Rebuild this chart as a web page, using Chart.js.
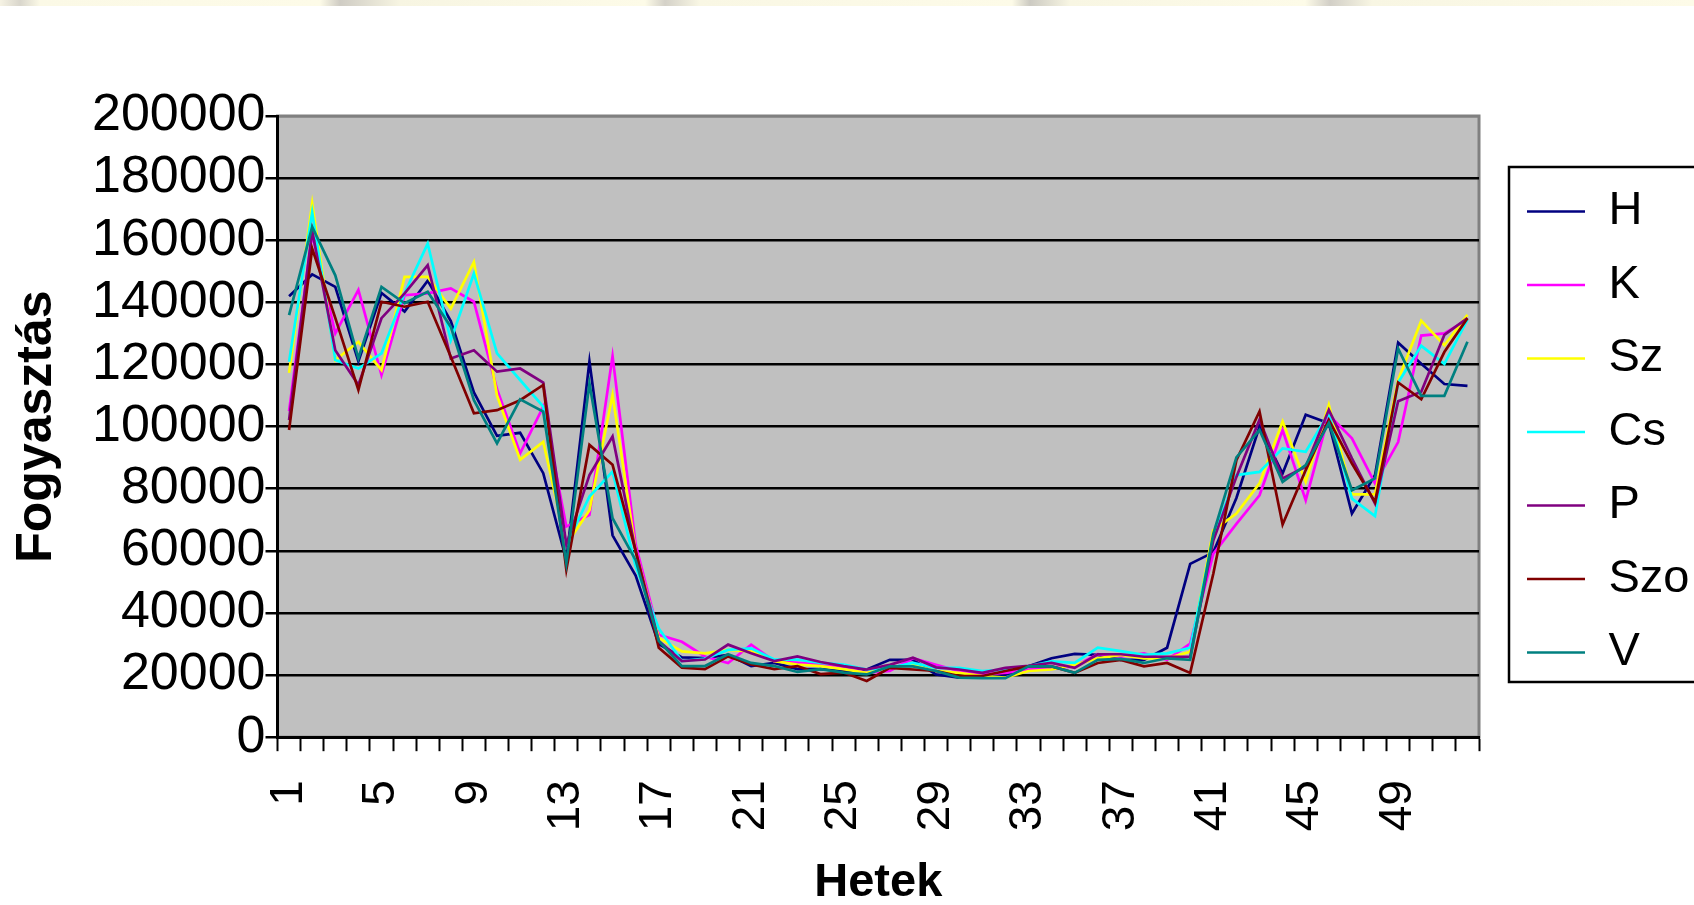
<!DOCTYPE html>
<html>
<head>
<meta charset="utf-8">
<script src="https://cdn.jsdelivr.net/npm/chart.js@4.4.0/dist/chart.umd.min.js"></script>
<style>
  html, body { margin: 0; padding: 0; background: #fff; overflow: hidden; }
  #strip {
    position: absolute; left: 0; top: 0; width: 1694px; height: 6px;
    background: linear-gradient(90deg, #f6f3e4 0px, #d9d6cc 20px, #fbf9e6 40px, #fdfbe8 320px, #cfccc4 340px, #f7f5e2 400px,
      #fdfbe8 645px, #d4d1c8 665px, #f9f7e4 700px, #fdfbe8 1012px, #cccac2 1030px, #f8f6e3 1070px,
      #fdfbe8 1305px, #d2cfc7 1330px, #f8f6e3 1372px, #fdfbe8 1694px);
  }
  canvas { position: absolute; left: 0; top: 0; }
</style>
</head>
<body>
<div id="strip"></div>
<canvas id="chart" width="1694" height="905"></canvas>
<script>
const weeks = Array.from({length: 52}, (_, i) => String(i + 1));

const H = [142000, 149000, 145000, 121000, 143000, 137000, 147000, 134000, 111000, 97000,
  98000, 85000, 57000, 121000, 65000, 52000, 30000, 25700, 25500, 26500,
  22900, 23900, 21900, 21900, 21300, 21800, 24900, 24900, 20200, 19200,
  19700, 19700, 22800, 25400, 26800, 26500, 24900, 24900, 28800, 55800,
  59500, 77000, 100000, 84900, 103800, 101100, 72000, 84400, 127000, 120200,
  113700, 113100];
const K = [105000, 162000, 130000, 144000, 116600, 142300, 142900, 144500, 140200, 112000,
  91400, 106400, 67800, 71600, 122700, 62000, 33000, 30700, 26000, 23900,
  29800, 24500, 23900, 23400, 22400, 20700, 21300, 25400, 23300, 21300,
  20200, 20700, 21800, 22300, 22800, 26700, 25900, 27000, 24900, 30100,
  59000, 68700, 77900, 98900, 76300, 103800, 96200, 81700, 95000, 129300,
  130000, 134400];
const Sz = [117300, 171800, 121400, 127300, 118200, 148200, 148200, 138000, 153000, 110000,
  89300, 95100, 62000, 73100, 110200, 60000, 32000, 27600, 27000, 28100,
  27600, 24500, 23400, 22900, 21900, 20700, 22300, 23300, 21300, 20700,
  19700, 19200, 21300, 21800, 23300, 25400, 26500, 25400, 25400, 27500,
  66600, 72000, 81700, 101600, 82200, 107000, 78200, 78200, 115000, 134100,
  126200, 136000];
const Cs = [120900, 169000, 121400, 118700, 123600, 143000, 158900, 127800, 149300, 123600,
  115000, 106400, 62000, 77500, 85500, 55000, 35000, 24500, 25300, 28100,
  28600, 25000, 25000, 23900, 23400, 21800, 22300, 23900, 22300, 22300,
  21300, 21800, 22800, 24400, 23900, 28800, 27700, 26500, 27000, 28800,
  64400, 84400, 85400, 93000, 91900, 104300, 76800, 71200, 114200, 126000,
  120200, 134400];
const P = [102100, 163000, 124600, 113400, 134900, 142900, 152000, 121900, 124600, 117700,
  118700, 114200, 62000, 84400, 96800, 60000, 31000, 24500, 25000, 29800,
  27000, 24500, 26000, 24200, 22900, 21800, 23300, 25600, 22500, 21800,
  20700, 22300, 23000, 23900, 22300, 26700, 26700, 25900, 25900, 25900,
  63300, 83800, 102200, 83300, 87100, 105400, 89800, 75200, 108200, 111200,
  129500, 134900];
const Szo = [98900, 157300, 135000, 111800, 140200, 138600, 140200, 122500, 104300, 105300,
  108500, 113400, 53900, 94100, 87700, 60000, 28800, 22400, 21900, 26000,
  23400, 21900, 22900, 20300, 20800, 18100, 22300, 21800, 21300, 19700,
  19700, 21300, 22800, 22800, 20700, 23900, 24900, 22800, 23900, 20700,
  52600, 89200, 104900, 68500, 86000, 102200, 88100, 75700, 114200, 108800,
  124000, 134900];
const V = [135900, 164300, 148700, 122000, 145000, 139700, 143400, 132100, 108500, 94600,
  108800, 104800, 56000, 113900, 70500, 57000, 31000, 22900, 22900, 26700,
  23900, 22900, 21000, 21900, 20800, 20200, 22800, 22800, 21300, 19200,
  19000, 19000, 22800, 22800, 20700, 24900, 25200, 23900, 25400, 24900,
  65500, 90100, 98900, 82200, 87600, 101100, 79500, 83300, 125100, 109900,
  109900, 127300];

const seriesNames = ['H', 'K', 'Sz', 'Cs', 'P', 'Szo', 'V'];
const seriesData = [H, K, Sz, Cs, P, Szo, V];
const seriesColors = ['#000080', '#FF00FF', '#FFFF00', '#00FFFF', '#800080', '#800000', '#008080'];

const FONT = 'Arial, "Liberation Sans", sans-serif';

// grey plot area + boxed legend, like the Excel original
const plotArea = {
  id: 'plotArea',
  beforeDraw(chart) {
    const {ctx, chartArea: a} = chart;
    ctx.save();
    ctx.fillStyle = '#C0C0C0';
    ctx.fillRect(a.left, a.top, a.width, a.height);
    ctx.strokeStyle = '#808080';
    ctx.lineWidth = 3;
    ctx.strokeRect(a.left, a.top, a.width, a.height);
    ctx.restore();
  },
  afterLayout(chart) {
    const lg = chart.legend;
    const pad = lg.options.labels.padding;
    // move legend so the first item starts at x 1527, first row top at y 188
    const w = lg.width;
    lg.left = 1527 - pad;
    lg.right = lg.left + w;
    const colH = lg.columnSizes[0].height;
    const y0 = (lg.top + pad + lg.bottom - colH) / 2;
    const dy = 188 - y0;
    lg.top += dy;
    lg.bottom += dy;
  },
  afterDraw(chart) {
    const boxes = chart.legend.legendHitBoxes;
    if (!boxes || !boxes.length) return;
    const first = boxes[0], last = boxes[boxes.length - 1];
    const {ctx} = chart;
    const top = first.top - 21;
    ctx.save();
    ctx.strokeStyle = '#000';
    ctx.lineWidth = 2.5;
    ctx.strokeRect(first.left - 18, top, 260, last.top + last.height + 6 - top);
    ctx.restore();
  }
};

new Chart(document.getElementById('chart'), {
  type: 'line',
  data: {
    labels: weeks,
    datasets: seriesNames.map((name, i) => ({
      label: name,
      data: seriesData[i],
      borderColor: seriesColors[i],
      backgroundColor: seriesColors[i],
      borderWidth: 2.7,
      pointRadius: 0,
      tension: 0,
      fill: false,
      order: seriesNames.length - i
    }))
  },
  options: {
    responsive: false,
    animation: false,
    devicePixelRatio: 1,
    layout: { padding: { left: 0, right: 16, top: 116, bottom: 0 } },
    plugins: {
      tooltip: { enabled: false },
      legend: {
        position: 'right',
        fullSize: false,
        labels: {
          font: { family: FONT, size: 47 },
          color: '#000',
          usePointStyle: true,
          pointStyle: 'line',
          pointStyleWidth: 58,
          padding: 26.5,
          sort: (a, b) => a.datasetIndex - b.datasetIndex
        }
      }
    },
    scales: {
      x: {
        offset: true,
        grid: {
          display: true,
          offset: true,
          drawOnChartArea: false,
          drawTicks: true,
          tickLength: 14,
          tickColor: '#000',
          tickWidth: 2
        },
        border: { display: true, color: '#000', width: 3 },
        ticks: {
          autoSkip: false,
          minRotation: 90,
          maxRotation: 90,
          padding: 29,
          color: '#000',
          font: { family: FONT, size: 46 },
          callback: (v, i) => (i % 4 === 0 ? weeks[i] : '')
        },
        title: {
          display: true,
          text: 'Hetek',
          color: '#000',
          font: { family: FONT, size: 47, weight: 'bold', lineHeight: 0.95 },
          padding: { top: 0, bottom: 0 }
        }
      },
      y: {
        min: 0,
        max: 200000,
        grid: {
          color: (c) => (c.tick && c.tick.value === 200000 ? '#808080' : '#000'),
          lineWidth: 2.5,
          drawTicks: true,
          tickLength: 12,
          tickColor: '#000',
          tickWidth: 2.5
        },
        border: { display: true, color: '#000', width: 3 },
        ticks: {
          stepSize: 20000,
          autoSkip: false,
          padding: 0,
          color: '#000',
          font: { family: FONT, size: 52 },
          callback: (v) => String(v)
        },
        title: {
          display: true,
          text: 'Fogyasztás',
          color: '#000',
          font: { family: FONT, size: 50, weight: 'bold', lineHeight: 1.2 },
          padding: { top: 7, bottom: 25 }
        }
      }
    }
  },
  plugins: [plotArea]
});
</script>
</body>
</html>
